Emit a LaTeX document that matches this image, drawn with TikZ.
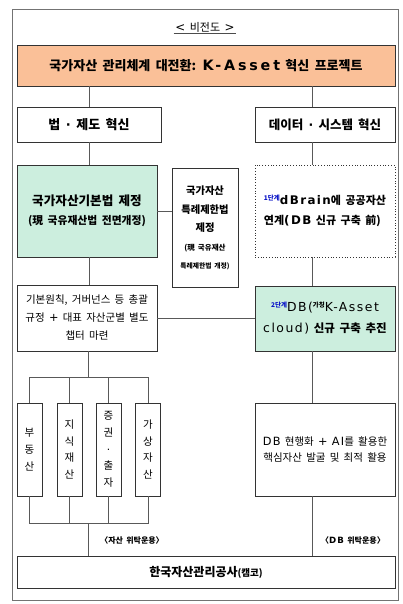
\documentclass[tikz,border=0pt]{standalone}
\usepackage{fontspec}
\setmainfont{Noto Sans CJK KR}[WordSpace=1.8]
\newfontfamily\latf{DejaVu Sans}[Scale=1.08, LetterSpace=12]
\newfontfamily\latT{DejaVu Sans}[Scale=1.1, LetterSpace=20]
\newfontfamily\dotf{DejaVu Sans}
\newcommand{\lat}[1]{{\latf #1}}
\newcommand{\latt}[1]{{\latT #1}}
\newcommand{\mdot}{\hspace{0.42em}{\dotf ·}\hspace{0.42em}}
\usetikzlibrary{shadows}
\definecolor{orangeF}{RGB}{250,192,152}
\definecolor{greenF}{RGB}{204,238,222}
\definecolor{supblue}{RGB}{10,20,200}
\newcommand{\supx}[2][black]{\raisebox{4pt}{\fontsize{6.5}{6.5}\selectfont\color{#1}#2}}
\begin{document}
\begin{tikzpicture}[x=1pt,y=-1pt,
  box/.style={draw=black!80, line width=0.8pt, fill=white, inner sep=0pt, align=center,
    drop shadow={shadow xshift=0.9pt,shadow yshift=-0.9pt,fill=black!55,opacity=1}},
  dbox/.style={draw=black!80, line width=0.8pt, dotted, fill=white, inner sep=0pt, align=left},
  conn/.style={draw=black!65, line width=1pt},
  vtxt/.style={font=\fontsize{10.5}{16.8}\selectfont},
  lbl/.style={font=\fontsize{8}{10}\selectfont\bfseries, inner sep=0pt}]
\useasboundingbox (0,0) rectangle (402,604);
\fill[white] (0,0) rectangle (402,604);
\draw[draw=black!55, line width=0.8pt] (12,9) rectangle (398,600);

\node[inner sep=1.5pt, font=\fontsize{11}{12}\selectfont] (title) at (205,27) {\lat{<} 비전도 \lat{>}};
\draw[black!70, line width=0.7pt] (title.south west) -- (title.south east);

\node[box, fill=orangeF, minimum width=378, minimum height=41,
  font=\fontsize{13}{14}\selectfont\bfseries] (banner) at (206,65.5)
  {국가자산 관리체계 대전환: \latt{K-Asset} 혁신 프로젝트};

\node[box, minimum width=144, minimum height=35, font=\fontsize{13}{14}\selectfont\bfseries] (law) at (89,124.5)
  {법\mdot 제도 혁신};
\node[box, minimum width=140, minimum height=35, font=\fontsize{12.5}{14}\selectfont\bfseries] (data) at (325,124.5)
  {데이터\mdot 시스템 혁신};

\node[box, fill=greenF, minimum width=140, minimum height=92, font=\fontsize{12.6}{19}\selectfont\bfseries] (basiclaw) at (87,211)
  {국가자산기본법 제정\\
   \fontsize{10.8}{19}\selectfont (現 국유재산법 전면개정)};
\node[box, minimum width=66, minimum height=119, font=\fontsize{10.3}{18.5}\selectfont\bfseries] (special) at (205,228)
  {국가자산\\ 특례제한법\\ 제정\\
   \fontsize{7.5}{17}\selectfont (現 국유재산\\ \fontsize{6.8}{14}\selectfont 특례제한법 개정)};
\node[dbox, minimum width=140, minimum height=92, font=\fontsize{11}{20}\selectfont\bfseries] (dbrain) at (325,211)
  {\supx[supblue]{1단계}\lat{dBrain}에 공공자산\\
   연계\lat{(DB} 신규 구축 前)};

\node[box, minimum width=140, minimum height=66, font=\fontsize{10.5}{18}\selectfont] (principle) at (87,318)
  {기본원칙, 거버넌스 등 총괄\\ 규정 \lat{+} 대표 자산군별 별도\\ 챕터 마련};
\node[box, fill=greenF, minimum width=140, minimum height=65, font=\fontsize{11.5}{21}\selectfont] (cloud) at (325,318.5)
  {\supx[supblue]{\bfseries 2단계}\lat{DB(}\supx{\bfseries 가칭}\lat{K-Asset}\\
   \lat{cloud)} {\bfseries 신규 구축 추진}};

\node[box, vtxt, minimum width=25, minimum height=93] (v1) at (29.5,449.5) {부\\동\\산};
\node[box, vtxt, minimum width=25, minimum height=93] (v2) at (69.5,449.5) {지\\식\\재\\산};
\node[box, vtxt, minimum width=25, minimum height=93] (v3) at (108.5,449.5) {증\\권\\{\dotf ·}\\출\\자};
\node[box, vtxt, minimum width=25, minimum height=93] (v4) at (148,449.5) {가\\상\\자\\산};

\node[box, minimum width=140, minimum height=93, font=\fontsize{10.5}{16}\selectfont] (ai) at (325,449.5)
  {\lat{DB} 현행화 \lat{+} \lat{AI}를 활용한\\ 핵심자산 발굴 및 최적 활용};

\node[box, minimum width=378, minimum height=32, font=\fontsize{12}{13}\selectfont\bfseries] (kamco) at (206,572)
  {한국자산관리공사{\fontsize{9.5}{12}\selectfont(캠코)}};

\node[lbl] (l1) at (132,540) {〈자산 위탁운용〉};
\node[lbl] (l2) at (353,540) {〈\lat{DB} 위탁운용〉};

% connectors
\coordinate (rx) at (312,0);
\draw[conn] (banner.south -| law.north) -- (law.north);
\draw[conn] (banner.south -| rx) -- (data.north -| rx);
\draw[conn] (law.south) -- (law.south |- basiclaw.north);
\draw[conn] (basiclaw.east |- 0,211) -- (special.west |- 0,211);
\draw[conn] (basiclaw.south -| law.south) -- (principle.north -| law.south);
\draw[conn] (data.south -| rx) -- (dbrain.north -| rx);
\draw[conn] (dbrain.south -| rx) -- (cloud.north -| rx);
\draw[conn] (cloud.south -| rx) -- (ai.north -| rx);
\draw[conn] (ai.south -| rx) -- (kamco.north -| rx);
\draw[conn] (principle.east) -- (cloud.west |- principle.east);
\coordinate (bt) at (88,377);
\coordinate (bb) at (88,523);
\draw[conn] (principle.south -| bt) -- (bt);
\draw[conn] (v1.north) |- (v4.north |- bt) -- (v4.north);
\draw[conn] (v2.north) -- (v2.north |- bt);
\draw[conn] (v3.north) -- (v3.north |- bt);
\draw[conn] (v1.south) |- (v4.south |- bb) -- (v4.south);
\draw[conn] (v2.south) -- (v2.south |- bb);
\draw[conn] (v3.south) -- (v3.south |- bb);
\draw[conn] (bb) -- (kamco.north -| bb);
\end{tikzpicture}
\end{document}
